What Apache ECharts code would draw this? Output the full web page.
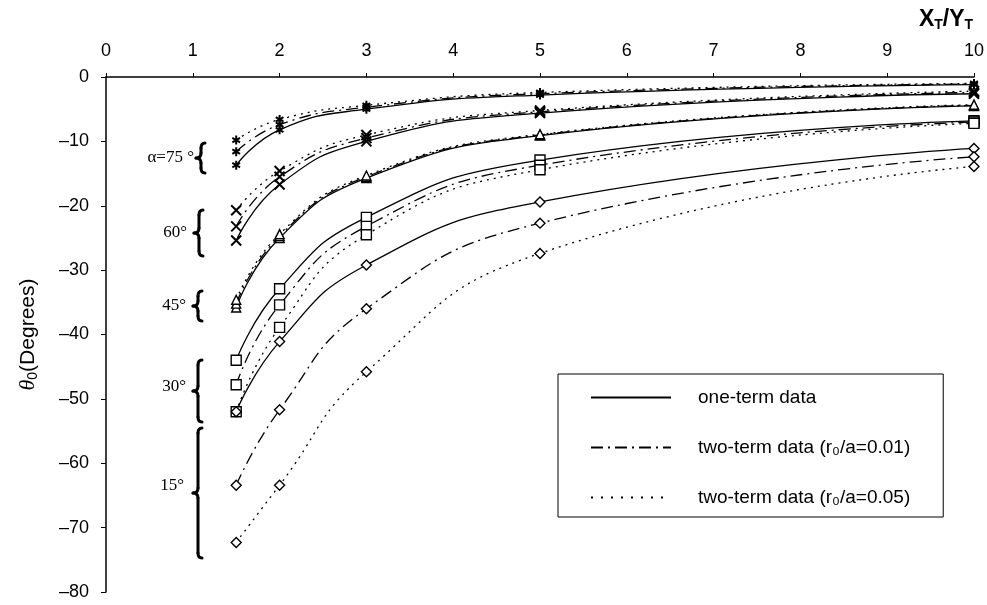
<!DOCTYPE html>
<html><head><meta charset="utf-8">
<script src="https://cdn.jsdelivr.net/npm/echarts@6/dist/echarts.min.js"></script>
<style>html,body{margin:0;padding:0;background:#fff}#c{width:987px;height:605px}</style>
</head><body><div id="c"></div>
<script>
// ---- data ----
const xValues = [1.5, 2, 3, 5, 10];
const xTicks = [0,1,2,3,4,5,6,7,8,9,10];
const yTicks = [0,-10,-20,-30,-40,-50,-60,-70,-80];
const alphaLabels = ['α=75 °','60°','45°','30°','15°'];
const legendNames = ['one-term data','two-term data (r₀/a=0.01)','two-term data (r₀/a=0.05)'];

const a75_one   = [-13.7, -8.2, -5.0, -2.8, -1.2];
const a75_two01 = [-11.6, -7.4, -4.7, -2.6, -1.1];
const a75_two05 = [-9.8,  -6.6, -4.4, -2.4, -1.0];

const a60_one   = [-25.4, -16.7, -10.0, -5.6, -2.6];
const a60_two01 = [-23.2, -15.5, -9.5,  -5.4, -2.4];
const a60_two05 = [-20.7, -14.6, -9.0,  -5.2, -2.2];

const a45_one   = [-35.8, -25.0, -15.7, -9.1, -4.5];
const a45_two01 = [-35.2, -24.7, -15.5, -9.0, -4.4];
const a45_two05 = [-34.6, -24.4, -15.3, -8.9, -4.3];

const a30_one   = [-44.0, -32.9, -21.8, -12.9, -6.8];
const a30_two01 = [-47.8, -35.4, -23.2, -13.7, -7.0];
const a30_two05 = [-52.0, -38.9, -24.5, -14.4, -7.2];

const a15_one   = [-52.0, -41.1, -29.2, -19.4, -11.1];
const a15_two01 = [-63.4, -51.7, -36.0, -22.7, -12.4];
const a15_two05 = [-72.3, -63.4, -45.8, -27.4, -13.9];

// ---- styles ----
const dashStyles = ['solid', [12,5,2,5], [2,5]];
const symbols = {
  a75: 'path://M5,0L5,10M0.7,2.5L9.3,7.5M0.7,7.5L9.3,2.5',
  a60: 'path://M0,0L10,10M0,10L10,0',
  a45: 'triangle',
  a30: 'rect',
  a15: 'diamond'
};
const groups = [
  ['a75', [a75_one, a75_two01, a75_two05], 9],
  ['a60', [a60_one, a60_two01, a60_two05], 10],
  ['a45', [a45_one, a45_two01, a45_two05], 9],
  ['a30', [a30_one, a30_two01, a30_two05], 10],
  ['a15', [a15_one, a15_two01, a15_two05], 10]
];

const series = [];
groups.forEach(([key, arrs, size]) => {
  arrs.forEach((arr, i) => {
    const strokeOnly = key === 'a75' || key === 'a60';
    series.push({
      type: 'line',
      name: key + '_' + i,
      data: xValues.map((x, j) => [x, arr[j]]),
      smooth: 0.5,
      symbol: symbols[key],
      symbolSize: size,
      symbolKeepAspect: true,
      showSymbol: true,
      lineStyle: { color: '#000', width: 1.3, type: dashStyles[i] },
      itemStyle: { color: strokeOnly ? 'rgba(0,0,0,0)' : '#fff', borderColor: '#000', borderWidth: strokeOnly ? 2 : 1.4 },
      z: 3,
      silent: true
    });
  });
});
legendNames.forEach((n, i) => {
  series.push({
    type: 'line', name: n, data: [], symbol: 'none', symbolSize: 0,
    lineStyle: { color: '#000', width: 1.3, type: i === 2 ? [2,8] : dashStyles[i] },
    itemStyle: { color: 'rgba(0,0,0,0)', borderColor: 'rgba(0,0,0,0)' }
  });
});

const braceStyle = { fill: 'none', stroke: '#000', lineWidth: 3, lineCap: 'round' };
function braceParts(xs, y0, y1) {
  const m = (y0 + y1) / 2;
  const parts = [
    { type: 'bezierCurve', shape: { x1: xs+4, y1: y0, cpx1: xs, cpy1: y0, x2: xs, y2: y0+5 } },
    { type: 'line', shape: { x1: xs, y1: y0+5, x2: xs, y2: m-5 } },
    { type: 'bezierCurve', shape: { x1: xs, y1: m-5, cpx1: xs, cpy1: m, x2: xs-5, y2: m } },
    { type: 'bezierCurve', shape: { x1: xs-5, y1: m, cpx1: xs, cpy1: m, x2: xs, y2: m+5 } },
    { type: 'line', shape: { x1: xs, y1: m+5, x2: xs, y2: y1-5 } },
    { type: 'bezierCurve', shape: { x1: xs, y1: y1-5, cpx1: xs, cpy1: y1, x2: xs+4, y2: y1 } }
  ];
  parts.forEach(p => { p.style = braceStyle; p.z = 10; p.silent = true; });
  return parts;
}
const braces = [[201,143,173],[199,210,256],[198,291,321],[198,360,422],[198,428,558]];
const labelPos = [[194,158],[187,233],[186,306],[186,387],[184,486]];

const graphic = [];
braces.forEach(b => braceParts(b[0], b[1], b[2]).forEach(p => graphic.push(p)));
alphaLabels.forEach((t, i) => graphic.push({
  type: 'text', x: labelPos[i][0], y: labelPos[i][1],
  style: { text: t, fill: '#000', font: '17px "Liberation Serif", "Times New Roman", serif', textAlign: 'right', textVerticalAlign: 'middle' }, z: 10
}));
graphic.push({
  type: 'text', x: 946, y: 20,
  style: {
    text: '{b|X}{s|T}{b|/Y}{s|T}',
    rich: {
      b: { fontSize: 23, fontWeight: 'bold', fontFamily: 'Liberation Sans, Arial, sans-serif', fill: '#000' },
      s: { fontSize: 14, fontWeight: 'bold', fontFamily: 'Liberation Sans, Arial, sans-serif', fill: '#000', padding: [10,0,0,0] }
    },
    textAlign: 'center', textVerticalAlign: 'middle'
  }, z: 10
});

const chart = echarts.init(document.getElementById('c'), null, { renderer: 'canvas' });
chart.setOption({
  backgroundColor: '#fff',
  animation: false,
  grid: { left: 106, right: 12, top: 77, bottom: 13 },
  xAxis: {
    type: 'value', position: 'top', min: xTicks[0], max: xTicks[xTicks.length-1], interval: 1,
    axisLine: { show: true, lineStyle: { color: '#000', width: 1.5 } },
    axisTick: { show: true, inside: false, length: 4, lineStyle: { color: '#000' } },
    axisLabel: { color: '#000', fontSize: 18, margin: 17, fontFamily: 'Liberation Sans, Arial, sans-serif' },
    splitLine: { show: false }
  },
  yAxis: {
    type: 'value', min: yTicks[yTicks.length-1], max: yTicks[0], interval: 10,
    axisLine: { show: true, onZero: false, lineStyle: { color: '#000', width: 1.5 } },
    axisTick: { show: true, length: 5, lineStyle: { color: '#000' } },
    axisLabel: { color: '#000', fontSize: 18, margin: 17, fontFamily: 'Liberation Sans, Arial, sans-serif',
      formatter: v => (v < 0 ? '\u2013' + Math.abs(v) : String(v)) },
    splitLine: { show: false },
    name: '{t|θ}{s|0}{n|(Degrees)}',
    nameLocation: 'middle', nameRotate: 90, nameGap: 66,
    nameTextStyle: {
      rich: {
        t: { fontSize: 22, fontStyle: 'italic', fontFamily: 'Liberation Serif, serif', color: '#000' },
        s: { fontSize: 14, fontFamily: 'Liberation Sans, Arial, sans-serif', color: '#000', padding: [9,0,0,0] },
        n: { fontSize: 21, fontFamily: 'Liberation Sans, Arial, sans-serif', color: '#000' }
      }
    }
  },
  legend: {
    data: legendNames, orient: 'vertical', left: 558, top: 374,
    itemWidth: 80, itemHeight: 14, itemGap: 31,
    padding: [14, 33, 10, 32],
    borderColor: '#000', borderWidth: 1, borderRadius: 0, backgroundColor: '#fff',
    itemStyle: { color: 'rgba(0,0,0,0)', borderColor: 'rgba(0,0,0,0)', borderWidth: 0 },
    textStyle: { color: '#000', fontSize: 19, fontFamily: 'Liberation Sans, Arial, sans-serif', padding: [0,0,0,22] },
    selectedMode: false
  },
  graphic: graphic,
  series: series
});
</script></body></html>
